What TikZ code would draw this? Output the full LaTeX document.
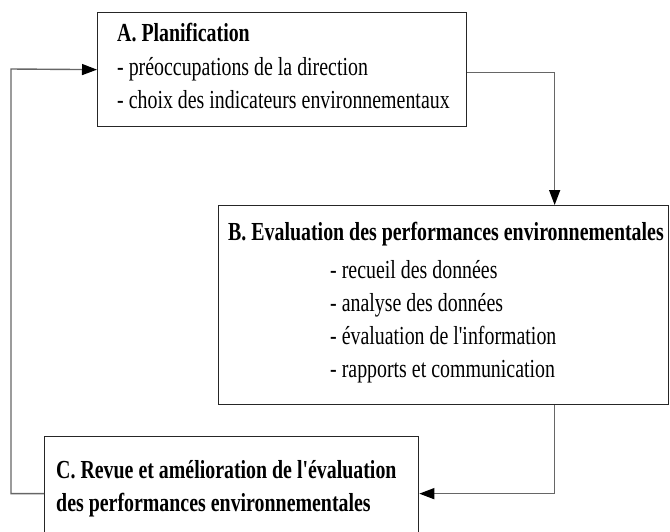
\documentclass[tikz,border=0pt]{standalone}
\usepackage{fontspec}
\setmainfont[FakeStretch=0.765,Ligatures=TeXOff]{Liberation Serif}
\usetikzlibrary{arrows.meta}
\begin{document}
\begin{tikzpicture}[x=1pt,y=1pt,
  boxnode/.style={draw=black!85,line width=1.3pt,rectangle,inner sep=0pt,anchor=north west},
  txt/.style={anchor=base west,inner sep=0pt,font=\fontsize{26}{33}\selectfont,text=black},
  ttl/.style={txt,font=\fontsize{26}{33}\selectfont\bfseries},
  conn/.style={draw=black!60,line width=1.4pt,-{Triangle[length=15pt,width=11pt,color=black]}}]
\path[use as bounding box,clip] (0,0) rectangle (670,-531);
% boxes
\node[boxnode,minimum width=369pt,minimum height=114pt] (A) at (97,-12) {};
\node[boxnode,minimum width=450pt,minimum height=199pt] (B) at (218,-205) {};
\node[boxnode,minimum width=374pt,minimum height=120pt] (C) at (44,-436) {};
% texts A
\node[ttl] (a0) at (117,-41) {A. Planification};
\node[txt] (a1) at (117,-75) {- préoccupations de la direction};
\node[txt] (a2) at (117,-108) {- choix des indicateurs environnementaux};
% texts B
\node[ttl] (b0) at (228,-240) {B. Evaluation des performances environnementales};
\node[txt] (b1) at (330,-278) {- recueil des données};
\node[txt] (b2) at (330,-311) {- analyse des données};
\node[txt] (b3) at (330,-344) {- évaluation de l'information};
\node[txt] (b4) at (330,-377) {- rapports et communication};
% texts C
\node[ttl] (c0) at (56,-478) {C. Revue et amélioration de l'évaluation};
\node[ttl] (c1) at (56,-511) {des performances environnementales};
% connectors
\coordinate (loopc) at (11,-69);
\draw[conn] ([yshift=-3pt]A.east) -| ([xshift=111pt]B.north);
\draw[conn] ([xshift=111pt]B.south) |- ([yshift=3pt]C.east);
\draw[conn] ([yshift=3pt]C.west) -| (loopc) -- (A.west);
\end{tikzpicture}
\end{document}
